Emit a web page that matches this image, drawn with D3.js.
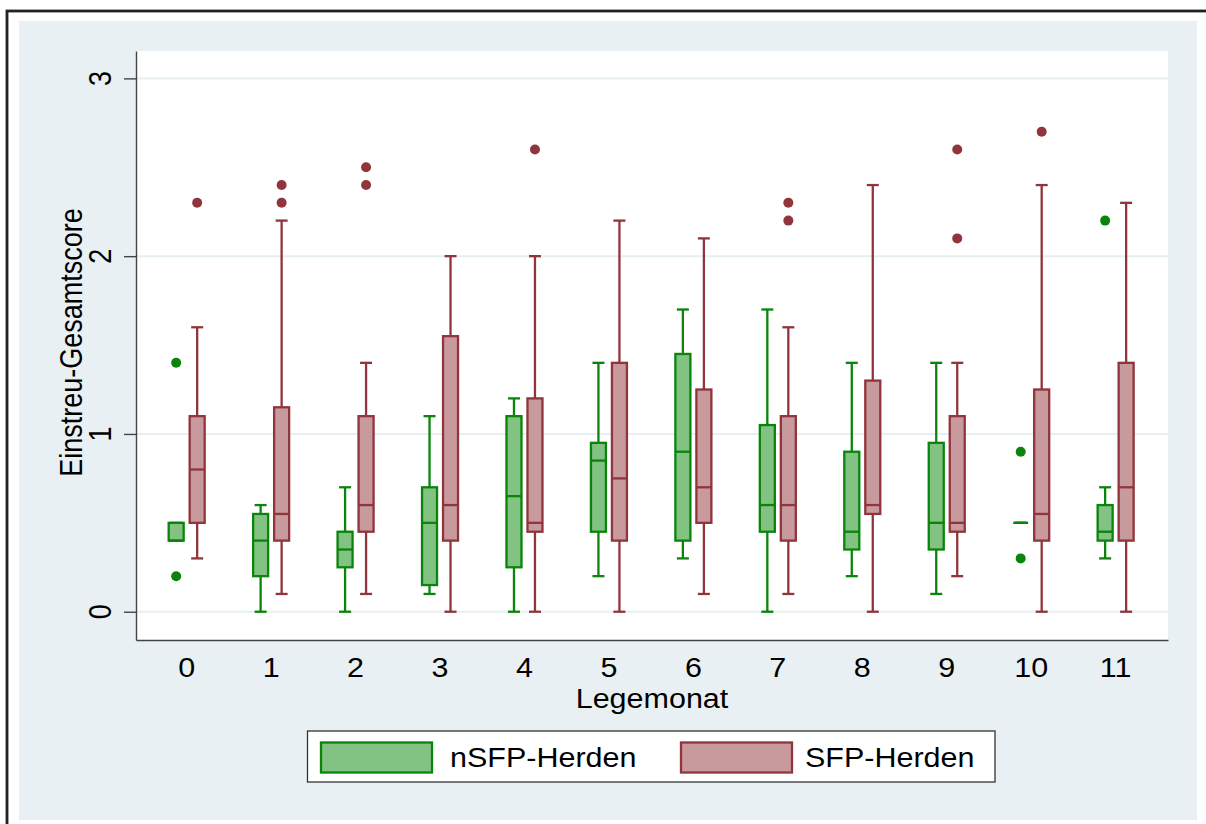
<!DOCTYPE html>
<html>
<head>
<meta charset="utf-8">
<script src="https://cdn.jsdelivr.net/npm/d3@7"></script>
<style>
  html, body { margin: 0; padding: 0; background: #fff; }
  svg { display: block; }
  text { font-family: "Liberation Sans", Arial, sans-serif; fill: #000; }
</style>
</head>
<body>
<svg id="chart" width="1206" height="824"></svg>
<script>
// Legemonat (laying month) categories
const months = [0, 1, 2, 3, 4, 5, 6, 7, 8, 9, 10, 11];
const monthLabels = ["0", "1", "2", "3", "4", "5", "6", "7", "8", "9", "10", "11"];
const yTicks = [0, 1, 2, 3];
const seriesNames = ["nSFP-Herden", "SFP-Herden"];

// nSFP-Herden: whisker ends, quartiles, median, outside values
const nsfpLow    = [0.4, 0,    0,    0.1,  0,    0.2,  0.3,  0,    0.2,  0.1,  0.5, 0.3];
const nsfpQ1     = [0.4, 0.2,  0.25, 0.15, 0.25, 0.45, 0.4,  0.45, 0.35, 0.35, 0.5, 0.4];
const nsfpMedian = [0.4, 0.4,  0.35, 0.5,  0.65, 0.85, 0.9,  0.6,  0.45, 0.5,  0.5, 0.45];
const nsfpQ3     = [0.5, 0.55, 0.45, 0.7,  1.1,  0.95, 1.45, 1.05, 0.9,  0.95, 0.5, 0.6];
const nsfpHigh   = [0.5, 0.6,  0.7,  1.1,  1.2,  1.4,  1.7,  1.7,  1.4,  1.4,  0.5, 0.7];
const nsfpOutliers = [[0.2, 1.4], [], [], [], [], [], [], [], [], [], [0.3, 0.9], [2.2]];

// SFP-Herden
const sfpLow    = [0.3, 0.1,  0.1,  0,    0,    0,    0.1,  0.1, 0,    0.2,  0,    0];
const sfpQ1     = [0.5, 0.4,  0.45, 0.4,  0.45, 0.4,  0.5,  0.4, 0.55, 0.45, 0.4,  0.4];
const sfpMedian = [0.8, 0.55, 0.6,  0.6,  0.5,  0.75, 0.7,  0.6, 0.6,  0.5,  0.55, 0.7];
const sfpQ3     = [1.1, 1.15, 1.1,  1.55, 1.2,  1.4,  1.25, 1.1, 1.3,  1.1,  1.25, 1.4];
const sfpHigh   = [1.6, 2.2,  1.4,  2.0,  2.0,  2.2,  2.1,  1.6, 2.4,  1.4,  2.4,  2.3];
const sfpOutliers = [[2.3], [2.3, 2.4], [2.4, 2.5], [], [2.6], [], [], [2.2, 2.3], [], [2.1, 2.6], [2.7], []];

const palette = {
  "nSFP-Herden": { stroke: "#0a840a", fill: "#82c282" },
  "SFP-Herden":  { stroke: "#90353b", fill: "#c89a9e" }
};

const raw = {
  "nSFP-Herden": [nsfpLow, nsfpQ1, nsfpMedian, nsfpQ3, nsfpHigh, nsfpOutliers],
  "SFP-Herden":  [sfpLow, sfpQ1, sfpMedian, sfpQ3, sfpHigh, sfpOutliers]
};

const boxes = [];
seriesNames.forEach(name => {
  const [lo, q1, md, q3, hi, out] = raw[name];
  months.forEach((m, i) => {
    boxes.push({ name, month: m, lo: lo[i], q1: q1[i], med: md[i], q3: q3[i], hi: hi[i], out: out[i] });
  });
});

const svg = d3.select("#chart");
const W = 1206, H = 824;
const plot = { left: 136, right: 1168, top: 51, bottom: 640 };
const textStretch = 1.13;
const fontSize = 27;
const lw = 2.3;

// outer frame and graph region
svg.append("rect").attr("x", 7).attr("y", 11).attr("width", W + 20).attr("height", H + 20)
  .attr("fill", "#fff").attr("stroke", "#222").attr("stroke-width", 2.8);
svg.append("rect").attr("x", 19).attr("y", 21).attr("width", 1197 - 19).attr("height", 820 - 21)
  .attr("fill", "#e9f0f3");
svg.append("rect").attr("x", plot.left).attr("y", plot.top)
  .attr("width", plot.right - plot.left).attr("height", plot.bottom - plot.top)
  .attr("fill", "#fff");

const x = d3.scaleLinear().domain([-0.6, 11.62]).range([plot.left, plot.right]);
const y = d3.scaleLinear().domain([-0.159, 3.154]).range([plot.bottom, plot.top]);
const offset = d3.scaleBand().domain(seriesNames).range([-21, 21]);
const cx = d => x(d.month) + offset(d.name) + offset.bandwidth() / 2;

const boxW = 15, capW = 12;

// horizontal grid
svg.append("g").selectAll("line").data(yTicks).join("line")
  .attr("x1", plot.left).attr("x2", plot.right)
  .attr("y1", d => y(d)).attr("y2", d => y(d))
  .attr("stroke", "#e6eff2").attr("stroke-width", 2);

// text helper: slightly wide glyphs, optional rotation
function label(g, tx, ty, str, anchor, rotate) {
  return g.append("text")
    .attr("transform", `translate(${tx},${ty}) scale(${textStretch},1)` + (rotate ? ` rotate(${rotate})` : ""))
    .attr("text-anchor", anchor)
    .attr("font-size", fontSize)
    .text(str);
}

// y axis
const yAxis = d3.axisLeft(y).tickValues(yTicks).tickSize(12).tickSizeOuter(0).tickFormat("");
const gy = svg.append("g").attr("transform", `translate(${plot.left},0)`).call(yAxis);
gy.select(".domain").attr("stroke", "#444").attr("stroke-width", 1.4);
gy.selectAll(".tick line").attr("stroke", "#444").attr("stroke-width", 1.4);
const yLab = svg.append("g");
yTicks.forEach(v => label(yLab, 111, y(v), String(v), "middle", -90));

// x axis
const xAxis = d3.axisBottom(x).tickValues(months).tickSize(0).tickSizeOuter(0).tickFormat("");
const gx = svg.append("g").attr("transform", `translate(0,${plot.bottom})`).call(xAxis);
gx.select(".domain").attr("stroke", "#444").attr("stroke-width", 1.4);
const xLab = svg.append("g");
months.forEach((m, i) => label(xLab, x(m), 677, monthLabels[i], "middle"));

// axis titles
label(svg.append("g"), (plot.left + plot.right) / 2, 708, "Legemonat", "middle");
label(svg.append("g"), 82, 342.5, "Einstreu-Gesamtscore", "middle", -90);

// box plots
const gb = svg.append("g");
const groups = gb.selectAll("g.box").data(boxes).join("g").attr("class", "box");

groups.append("line") // whisker
  .attr("x1", cx).attr("x2", cx)
  .attr("y1", d => y(d.lo)).attr("y2", d => y(d.hi))
  .attr("stroke", d => palette[d.name].stroke).attr("stroke-width", lw);
groups.selectAll("line.cap").data(d => [d.lo, d.hi].map(v => ({ v, d }))).join("line")
  .attr("class", "cap")
  .attr("x1", e => cx(e.d) - capW / 2).attr("x2", e => cx(e.d) + capW / 2)
  .attr("y1", e => y(e.v)).attr("y2", e => y(e.v))
  .attr("stroke", e => palette[e.d.name].stroke).attr("stroke-width", lw);
groups.append("rect")
  .attr("x", d => cx(d) - boxW / 2).attr("width", boxW)
  .attr("y", d => y(d.q3)).attr("height", d => y(d.q1) - y(d.q3))
  .attr("fill", d => palette[d.name].fill)
  .attr("stroke", d => palette[d.name].stroke).attr("stroke-width", lw);
groups.append("line") // median
  .attr("x1", d => cx(d) - boxW / 2).attr("x2", d => cx(d) + boxW / 2)
  .attr("y1", d => y(d.med)).attr("y2", d => y(d.med))
  .attr("stroke", d => palette[d.name].stroke).attr("stroke-width", lw);
groups.selectAll("circle").data(d => d.out.map(v => ({ v, d }))).join("circle")
  .attr("cx", e => cx(e.d)).attr("cy", e => y(e.v)).attr("r", 5)
  .attr("fill", e => palette[e.d.name].stroke);

// legend
const lg = svg.append("g");
lg.append("rect").attr("x", 307.5).attr("y", 731).attr("width", 995 - 307.5).attr("height", 51)
  .attr("fill", "#fff").attr("stroke", "#333").attr("stroke-width", 1.3);
const legendItems = [
  { name: seriesNames[0], sx: 321, tx: 450 },
  { name: seriesNames[1], sx: 681, tx: 805 }
];
legendItems.forEach(it => {
  lg.append("rect").attr("x", it.sx).attr("y", 742.5).attr("width", 111).attr("height", 30)
    .attr("fill", palette[it.name].fill).attr("stroke", palette[it.name].stroke).attr("stroke-width", lw);
  label(lg, it.tx, 767, it.name, "start");
});
</script>
</body>
</html>
